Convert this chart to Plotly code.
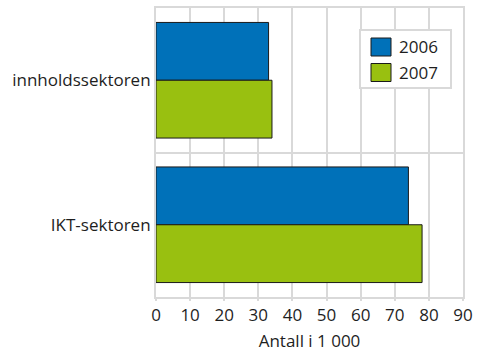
import plotly.graph_objects as go

# Employment by sector, thousands
sectors = ["innholdssektoren", "IKT-sektoren"]
years = ["2006", "2007"]
values_2006 = [33, 74]
values_2007 = [34, 78]
x_ticks = [0, 10, 20, 30, 40, 50, 60, 70, 80, 90]

colors = {"2006": "#0071b9", "2007": "#99c010"}
series = {"2006": values_2006, "2007": values_2007}

W, H = 483, 355
ML, MR, MT, MB = 156, 20, 8, 58
PW, PH = W - ML - MR, H - MT - MB

FONT = "Open Sans, Noto Sans, DejaVu Sans, sans-serif"
GRID = "#d9d9d9"
TEXT = "#1e1e1e"

fig = go.Figure()
for yr in years:
    fig.add_trace(go.Bar(
        y=sectors, x=series[yr], name=yr, orientation="h",
        marker=dict(color=colors[yr], line=dict(color="#1a1a1a", width=1)),
        showlegend=False,
    ))


def px_x(p):
    return (p - ML) / PW


def px_y(p):
    return (H - MB - p) / PH


# legend box drawn as layout shapes
shapes = [dict(type="rect", xref="paper", yref="paper",
               x0=px_x(360), x1=px_x(451), y0=px_y(88), y1=px_y(30),
               line=dict(color=GRID, width=2), fillcolor="white", layer="above")]
annotations = []
for i, yr in enumerate(years):
    top = 38 + i * 25.5
    shapes.append(dict(type="rect", xref="paper", yref="paper",
                       x0=px_x(371), x1=px_x(391), y0=px_y(top + 18), y1=px_y(top),
                       line=dict(color="#1a1a1a", width=1), fillcolor=colors[yr],
                       layer="above"))
    annotations.append(dict(xref="paper", yref="paper", x=px_x(397), y=px_y(top + 9),
                            text=yr, showarrow=False, xanchor="left", yanchor="middle",
                            font=dict(family=FONT, size=17, color=TEXT)))

fig.update_layout(
    width=W, height=H,
    margin=dict(l=ML, r=MR, t=MT, b=MB, pad=0, autoexpand=False),
    paper_bgcolor="white", plot_bgcolor="white",
    barmode="group", bargap=0.2, bargroupgap=0,
    font=dict(family=FONT, size=17, color=TEXT),
    showlegend=False,
    shapes=shapes, annotations=annotations,
    xaxis=dict(range=[0, 90], tickvals=x_ticks, showgrid=True, gridcolor=GRID,
               gridwidth=2, zeroline=False, showline=True, mirror=True,
               linecolor=GRID, linewidth=2, automargin=False,
               ticks="outside", ticklen=2, tickwidth=2, tickcolor=GRID,
               title=dict(text="Antall i 1 000", standoff=10, font=dict(size=17)),
               tickfont=dict(size=17)),
    yaxis=dict(categoryorder="array", categoryarray=sectors, autorange="reversed",
               tickson="boundaries", showgrid=True, gridcolor=GRID, gridwidth=2,
               zeroline=False, showline=True, mirror=True, linecolor=GRID, linewidth=2,
               automargin=False, ticks="", ticklen=0, tickfont=dict(size=17)),
)

fig.write_html("out.html")
